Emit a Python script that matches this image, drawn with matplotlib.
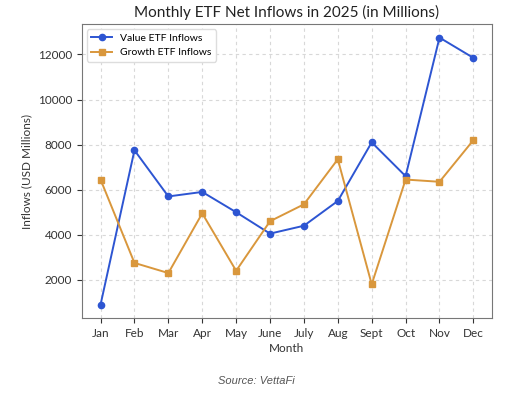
import matplotlib.pyplot as plt

months = ['Jan', 'Feb', 'Mar', 'Apr', 'May', 'June', 'July', 'Aug', 'Sept', 'Oct', 'Nov', 'Dec']
value_inflows = [900, 7750, 5700, 5900, 5000, 4050, 4400, 5500, 8100, 6600, 12750, 11850]
growth_inflows = [6450, 2750, 2300, 4950, 2400, 4600, 5350, 7350, 1800, 6450, 6350, 8200]

plt.rcParams['font.family'] = ['Lato', 'DejaVu Sans']

fig = plt.figure(figsize=(5.12, 4.04), dpi=100)
ax = fig.add_axes([0.16, 0.213, 0.801, 0.727])

ax.plot(months, value_inflows, color='#2d55d2', marker='o', markersize=4.5,
        linewidth=1.4, label='Value ETF Inflows')
ax.plot(months, growth_inflows, color='#d9973c', marker='s', markersize=4.5,
        linewidth=1.4, label='Growth ETF Inflows')

ax.set_title('Monthly ETF Net Inflows in 2025 (in Millions)', fontsize=11, color='#222222', pad=5)
ax.set_xlabel('Month', fontsize=8.5, color='#333333', labelpad=3)
ax.set_ylabel('Inflows (USD Millions)', fontsize=8.5, color='#333333')
ax.set_yticks([2000, 4000, 6000, 8000, 10000, 12000])
ax.tick_params(labelsize=8.5, colors='#333333')
ax.grid(True, linestyle=(0, (3, 3)), color='#d8d8d8', linewidth=0.8)
for s in ax.spines.values():
    s.set_color('#777777')

ax.legend(loc='upper left', fontsize=7.5, framealpha=1, edgecolor='#dddddd')

fig.text(0.5, 0.05, 'Source: VettaFi', ha='center', fontsize=8, style='italic',
         color='#555555', family='Liberation Sans')

fig.savefig('out.png', dpi=100)
